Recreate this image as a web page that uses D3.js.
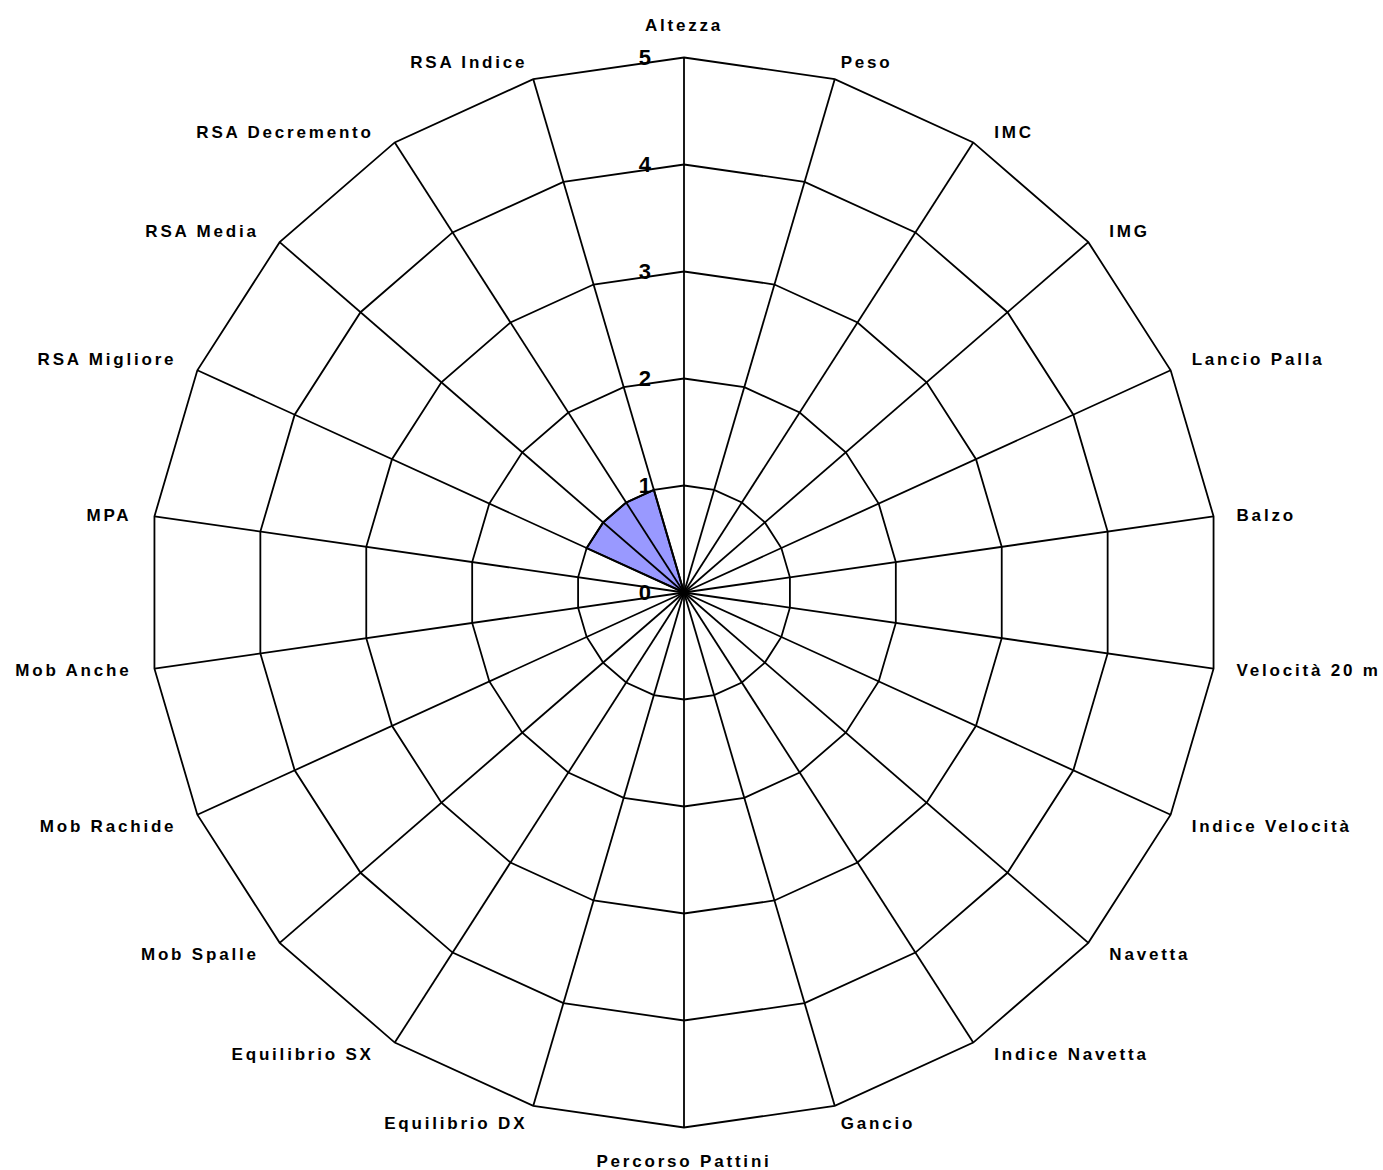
<!DOCTYPE html>
<html>
<head>
<meta charset="utf-8">
<script src="https://cdn.jsdelivr.net/npm/d3@7"></script>
<style>
  body { margin: 0; background: #fff; }
  svg text { font-family: "Liberation Sans", Arial, sans-serif; font-weight: bold; fill: #000; }
</style>
</head>
<body>
<svg id="chart" width="1383" height="1170"></svg>
<script>
const categories = ["Altezza", "Peso", "IMC", "IMG", "Lancio Palla", "Balzo", "Velocità 20 m",
  "Indice Velocità", "Navetta", "Indice Navetta", "Gancio", "Percorso Pattini", "Equilibrio DX",
  "Equilibrio SX", "Mob Spalle", "Mob Rachide", "Mob Anche", "MPA", "RSA Migliore", "RSA Media",
  "RSA Decremento", "RSA Indice"];
const values = [0, 0, 0, 0, 0, 0, 0, 0, 0, 0, 0, 0, 0, 0, 0, 0, 0, 0, 1, 1, 1, 1];
const ticks = [0, 1, 2, 3, 4, 5];

var cx = 684, cy = 592.5, outerR = 535;
var n = categories.length;

var svg = d3.select("#chart");
var g = svg.append("g").attr("transform", "translate(" + cx + "," + cy + ")");

var r = d3.scaleLinear().domain([0, 5]).range([0, outerR]);
var angle = d3.scaleLinear().domain([0, n]).range([0, 2 * Math.PI]);

var radial = d3.lineRadial()
    .angle(function(d, i) { return angle(i); })
    .radius(function(d) { return r(d); })
    .curve(d3.curveLinearClosed);

// series fill (drawn under the grid)
g.append("path")
    .attr("d", radial(values))
    .attr("fill", "#9999ff")
    .attr("stroke", "#000")
    .attr("stroke-width", 2);

// rings
ticks.slice(1).forEach(function(t) {
    g.append("path")
        .attr("d", radial(categories.map(function() { return t; })))
        .attr("fill", "none")
        .attr("stroke", "#000")
        .attr("stroke-width", 1.8);
});

// spokes
categories.forEach(function(c, i) {
    var a = angle(i);
    g.append("line")
        .attr("x1", 0).attr("y1", 0)
        .attr("x2", r(5) * Math.sin(a))
        .attr("y2", -r(5) * Math.cos(a))
        .attr("stroke", "#000")
        .attr("stroke-width", 1.8);
});

// tick labels along the top spoke
g.selectAll(".tick")
    .data(ticks)
    .enter()
    .append("text")
    .attr("x", -33)
    .attr("y", function(d) { return -r(d); })
    .attr("dy", "0.36em")
    .attr("text-anchor", "end")
    .style("font-size", "22px")
    .text(function(d) { return d; });

// category labels
categories.forEach(function(c, i) {
    var a = angle(i);
    var s = Math.sin(a), co = Math.cos(a);
    var ex = r(5) * s, ey = -r(5) * co;
    var anchor, dx, dy;
    if (Math.abs(s) < 0.01) {
        anchor = "middle"; dx = 0; dy = co > 0 ? -33 : 33;
    } else {
        anchor = s > 0 ? "start" : "end";
        var ac = Math.abs(co);
        var off = ac > 0.9 ? 6 : (ac > 0.3 ? 21 : 23);
        dx = (s > 0 ? 1 : -1) * off;
        dy = ac > 0.9 ? 17 : (ac > 0.3 ? 11 : 1);
        dy = co > 0 ? -dy : dy;
    }
    g.append("text")
        .attr("x", ex + dx)
        .attr("y", ey + dy)
        .attr("dy", "0.36em")
        .attr("text-anchor", anchor)
        .style("font-size", "17px")
        .style("letter-spacing", "2.8px")
        .text(c);
});
</script>
</body>
</html>
